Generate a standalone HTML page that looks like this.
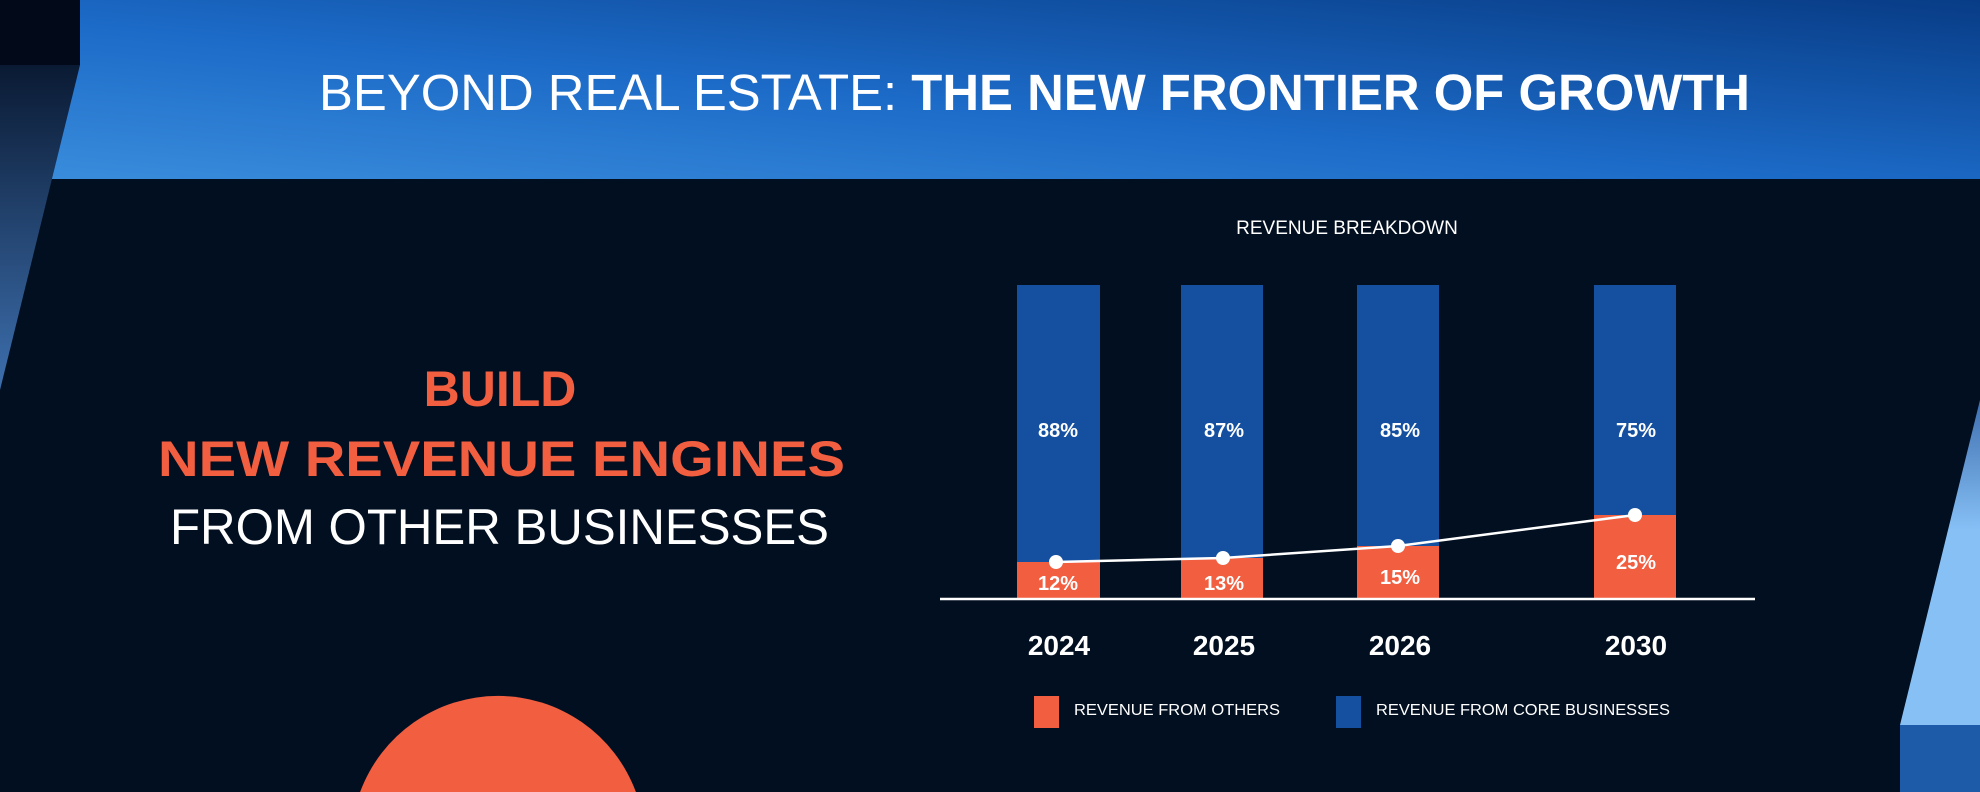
<!DOCTYPE html>
<html><head><meta charset="utf-8"><style>
html,body{margin:0;padding:0;background:#020f20;width:1980px;height:792px;overflow:hidden;}
svg{display:block}
text{font-family:"Liberation Sans",sans-serif;}
</style></head><body>
<svg width="1980" height="792" viewBox="0 0 1980 792" xmlns="http://www.w3.org/2000/svg">
<defs>
<linearGradient id="hdr" x1="0" y1="1" x2="1" y2="0">
<stop offset="0" stop-color="#3a8ddc"/>
<stop offset="0.45" stop-color="#1c6bc8"/>
<stop offset="1" stop-color="#083c86"/>
</linearGradient>
<linearGradient id="lp" x1="0" y1="0" x2="0" y2="1">
<stop offset="0" stop-color="#0a1a33"/>
<stop offset="1" stop-color="#3d6fae"/>
</linearGradient>
<linearGradient id="rp" x1="0" y1="0" x2="0" y2="1">
<stop offset="0" stop-color="#3f6fb0"/>
<stop offset="0.4" stop-color="#86c0f5"/>
<stop offset="1" stop-color="#86c0f5"/>
</linearGradient>
</defs>
<rect width="1980" height="792" fill="#020f20"/>
<rect width="1980" height="179" fill="url(#hdr)"/>
<rect x="0" y="0" width="80" height="65" fill="#020a1a"/>
<polygon points="0,65 80,65 0,390" fill="url(#lp)"/>
<polygon points="1980,400 1980,725 1900,725" fill="url(#rp)"/>
<rect x="1900" y="725" width="80" height="67" fill="#1d5aa8"/>
<path d="M360.1,792 A147,147 0 0,1 635.9,792 Z" fill="#f15e40"/>

<text x="319" y="110" font-size="51" fill="#fff" textLength="1431" lengthAdjust="spacingAndGlyphs">BEYOND REAL ESTATE: <tspan font-weight="bold">THE NEW FRONTIER OF GROWTH</tspan></text>

<text x="500" y="406" font-size="50" font-weight="bold" fill="#f15e40" text-anchor="middle">BUILD</text>
<text x="158" y="476" font-size="50" font-weight="bold" fill="#f15e40" textLength="687" lengthAdjust="spacingAndGlyphs">NEW REVENUE ENGINES</text>
<text x="170" y="544" font-size="50" fill="#fff" textLength="659" lengthAdjust="spacingAndGlyphs">FROM OTHER BUSINESSES</text>

<text x="1347" y="234" font-size="19" fill="#fff" text-anchor="middle">REVENUE BREAKDOWN</text>

<g>
<rect x="1017" y="285" width="83" height="277" fill="#1550a0"/>
<rect x="1017" y="562" width="83" height="37" fill="#f15e40"/>
<rect x="1181" y="285" width="82" height="273" fill="#1550a0"/>
<rect x="1181" y="558" width="82" height="41" fill="#f15e40"/>
<rect x="1357" y="285" width="82" height="261" fill="#1550a0"/>
<rect x="1357" y="546" width="82" height="53" fill="#f15e40"/>
<rect x="1594" y="285" width="82" height="230" fill="#1550a0"/>
<rect x="1594" y="515" width="82" height="84" fill="#f15e40"/>
</g>
<line x1="940" y1="599" x2="1755" y2="599" stroke="#fff" stroke-width="2.5"/>
<polyline points="1056,562 1223,558 1398,546 1635,515" fill="none" stroke="#fff" stroke-width="2.5"/>
<g fill="#fff">
<circle cx="1056" cy="562" r="7"/><circle cx="1223" cy="558" r="7"/><circle cx="1398" cy="546" r="7"/><circle cx="1635" cy="515" r="7"/>
</g>
<g font-size="20" font-weight="bold" fill="#fff" text-anchor="middle">
<text x="1058" y="437">88%</text><text x="1224" y="437">87%</text><text x="1400" y="437">85%</text><text x="1636" y="437">75%</text>
<text x="1058" y="590">12%</text><text x="1224" y="590">13%</text><text x="1400" y="584">15%</text><text x="1636" y="569">25%</text>
</g>
<g font-size="28" font-weight="bold" fill="#fff" text-anchor="middle">
<text x="1059" y="655">2024</text><text x="1224" y="655">2025</text><text x="1400" y="655">2026</text><text x="1636" y="655">2030</text>
</g>
<rect x="1034" y="696" width="25" height="32" fill="#f15e40"/>
<text x="1074" y="715" font-size="16" fill="#fff" textLength="206" lengthAdjust="spacingAndGlyphs">REVENUE FROM OTHERS</text>
<rect x="1336" y="696" width="25" height="32" fill="#1550a0"/>
<text x="1376" y="715" font-size="16" fill="#fff" textLength="294" lengthAdjust="spacingAndGlyphs">REVENUE FROM CORE BUSINESSES</text>
</svg>
</body></html>
